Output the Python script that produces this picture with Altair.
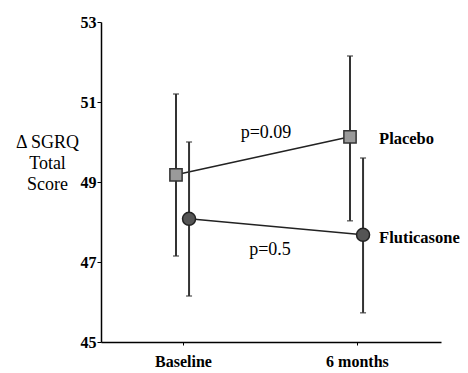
import altair as alt
import pandas as pd

groups = ["Placebo", "Placebo", "Fluticasone", "Fluticasone"]
timepoints = ["Baseline", "6 months", "Baseline", "6 months"]
time_index = [1, 2, 1, 2]
means = [49.18, 50.13, 48.08, 47.68]
lower = [47.15, 48.03, 46.15, 45.73]
upper = [51.2, 52.15, 50.0, 49.6]

ann_text = ["p=0.09", "p=0.5"]
ann_x = [1.477, 1.50]
ann_y = [50.23, 47.3]

lab_text = ["Placebo", "Fluticasone"]
lab_x = [2.127, 2.127]
lab_y = [50.08, 47.6]

offsets = {"Placebo": -0.04, "Fluticasone": 0.035}
df = pd.DataFrame({
    "group": groups, "time": timepoints, "t": time_index,
    "mean": means, "lo": lower, "hi": upper,
})
df["xpos"] = df["t"] + df["group"].map(offsets)

FONT = "Liberation Serif, Times New Roman, serif"
xscale = alt.Scale(domain=[0.529, 2.483], nice=False, zero=False)
yscale = alt.Scale(domain=[45, 53], nice=False, zero=False)

base = alt.Chart(df)

x_enc = alt.X("xpos:Q", scale=xscale, axis=alt.Axis(
    values=[1, 2], labelExpr="datum.value == 1 ? 'Baseline' : '6 months'",
    title=None, grid=False, domainColor="black", domainWidth=1.5,
    tickColor="black", tickSize=3, labelFont=FONT, labelFontSize=16,
    labelFontWeight="bold", labelColor="black", labelPadding=8))
y_enc = alt.Y("mean:Q", scale=yscale, axis=alt.Axis(
    values=[45, 47, 49, 51, 53], title=["Δ SGRQ", "Total", "Score"],
    titleAngle=0, titleX=-54, titleY=125, titleAlign="center",
    titleBaseline="alphabetic", titleLineHeight=21, titleFont=FONT,
    titleFontSize=18, titleFontWeight="normal", titleColor="black",
    grid=False, domainColor="black", domainWidth=1.5, tickColor="black",
    tickSize=4, labelFont=FONT, labelFontSize=16, labelFontWeight="bold",
    labelColor="black", labelPadding=1))

lines = base.mark_line(color="#222", strokeWidth=1.5).encode(
    x=x_enc, y=y_enc, detail="group:N", order="t:Q")

bars = base.mark_rule(color="#333", strokeWidth=2).encode(
    x="xpos:Q", y="lo:Q", y2="hi:Q")
cap_lo = base.mark_tick(orient="horizontal", size=6, thickness=1.5, color="#333").encode(
    x="xpos:Q", y="lo:Q")
cap_hi = base.mark_tick(orient="horizontal", size=6, thickness=1.5, color="#333").encode(
    x="xpos:Q", y="hi:Q")

squares = base.transform_filter(alt.datum.group == "Placebo").mark_point(
    shape="square", filled=True, size=150, fill="#9a9a9a", stroke="#333",
    strokeWidth=1.5, opacity=1).encode(x="xpos:Q", y="mean:Q")
circles = base.transform_filter(alt.datum.group == "Fluticasone").mark_point(
    shape="circle", filled=True, size=170, fill="#555", stroke="#222",
    strokeWidth=1.5, opacity=1).encode(x="xpos:Q", y="mean:Q")

ann_df = pd.DataFrame({"text": ann_text, "x": ann_x, "y": ann_y})
ann = alt.Chart(ann_df).mark_text(font=FONT, fontSize=18, color="black",
                                  align="center", baseline="middle").encode(
    x="x:Q", y="y:Q", text="text:N")

lab_df = pd.DataFrame({"text": lab_text, "x": lab_x, "y": lab_y})
labs = alt.Chart(lab_df).mark_text(font=FONT, fontSize=16.5, fontWeight="bold",
                                   color="black", align="left",
                                   baseline="middle").encode(
    x="x:Q", y="y:Q", text="text:N")

chart = alt.layer(lines, bars, cap_lo, cap_hi, squares, circles, ann, labs).properties(
    width=340, height=320,
    autosize=alt.AutoSizeParams(type="none"),
    padding={"left": 93, "top": 14, "right": 19, "bottom": 30},
).configure(background="white", font=FONT).configure_view(stroke=None).configure_axis(
    labelFont=FONT, titleFont=FONT)

chart.save("out.html", embed_options={"renderer": "svg", "actions": False})
